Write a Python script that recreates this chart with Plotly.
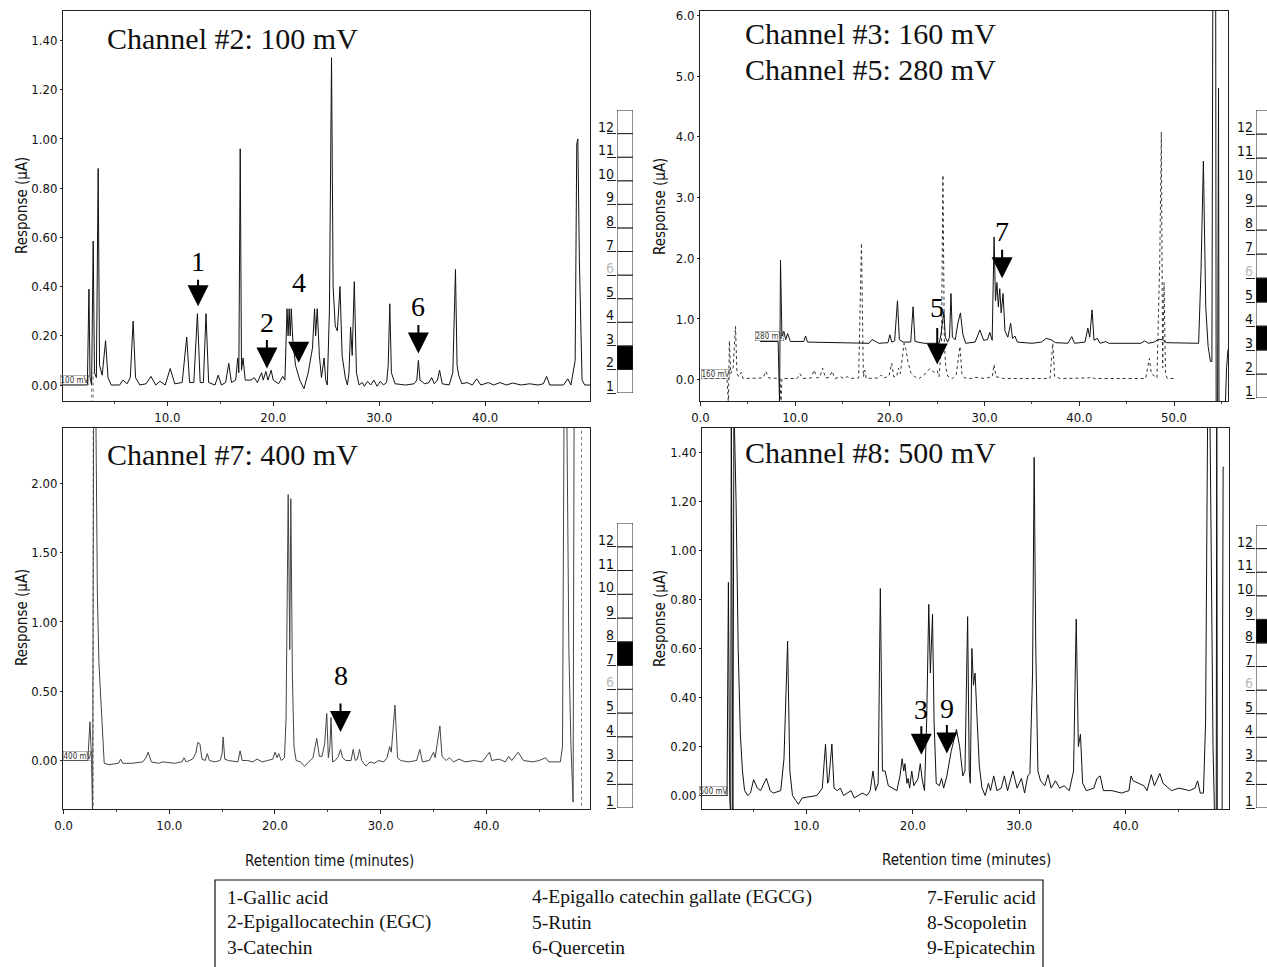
import plotly.graph_objects as go

W, H = 1267, 967
SERIF = "Liberation Serif, Times New Roman, serif"
NARROW = "Liberation Sans Narrow, Arial Narrow, DejaVu Sans Condensed, Liberation Sans, sans-serif"

# ---------------- data: chromatogram vertices (time min, response uA) ----------------
ch2_points = [
    (0.0, 0.0), (2.45, 0.0), (2.6, 0.39), (2.7, 0.03), (2.85, 0.0), (3.0, 0.585), (3.12, 0.05), (3.3, 0.03),
    (3.47, 0.88), (3.6, 0.08), (3.85, 0.04), (4.17, 0.18), (4.4, 0.03), (4.7, 0.0), (5.5, 0.0), (5.8, 0.02),
    (6.2, 0.005), (6.5, 0.03), (6.77, 0.26), (7.0, 0.03), (7.4, 0.0), (8.0, 0.005), (8.45, 0.035), (8.9, 0.0),
    (9.3, 0.015), (9.8, 0.0), (10.27, 0.067), (10.7, 0.005), (11.4, 0.01), (11.83, 0.195), (12.1, 0.01),
    (12.5, 0.01), (12.84, 0.29), (13.1, 0.01), (13.4, 0.01), (13.65, 0.29), (13.9, 0.01), (14.5, 0.0),
    (14.8, 0.04), (15.1, 0.0), (15.5, 0.01), (15.8, 0.088), (16.05, 0.01), (16.45, 0.02), (16.65, 0.11),
    (16.75, 0.05), (16.88, 0.96), (17.0, 0.06), (17.15, 0.11), (17.35, 0.02), (17.9, 0.02), (18.2, 0.03),
    (18.5, 0.01), (18.9, 0.05), (19.05, 0.02), (19.3, 0.055), (19.5, 0.02), (19.8, 0.06), (20.0, 0.02),
    (20.5, 0.005), (20.9, 0.035), (21.1, 0.02), (21.3, 0.31), (21.4, 0.2), (21.5, 0.31), (21.6, 0.2),
    (21.7, 0.31), (21.85, 0.18), (22.1, 0.08), (22.5, 0.02), (22.9, -0.015), (23.3, 0.05), (23.7, 0.15),
    (23.9, 0.31), (24.0, 0.2), (24.15, 0.31), (24.35, 0.12), (24.55, 0.03), (24.8, 0.11), (24.95, 0.02),
    (25.1, 0.0), (25.3, 0.3), (25.5, 1.33), (25.65, 0.4), (25.85, 0.24), (26.05, 0.22), (26.3, 0.40),
    (26.5, 0.12), (26.8, 0.03), (27.0, 0.0), (27.15, 0.05), (27.3, 0.235), (27.45, 0.12), (27.65, 0.42),
    (27.85, 0.05), (28.1, 0.0), (28.4, 0.01), (28.6, -0.005), (28.9, 0.015), (29.2, 0.0), (29.5, 0.02),
    (29.8, -0.005), (30.1, 0.015), (30.4, 0.0), (30.7, 0.01), (30.85, 0.08), (31.0, 0.33), (31.15, 0.05),
    (31.5, 0.005), (32.5, 0.0), (33.3, 0.005), (33.55, 0.02), (33.7, 0.10), (33.85, 0.02), (34.3, 0.005),
    (34.7, 0.01), (34.95, 0.03), (35.2, 0.005), (35.5, 0.02), (35.7, 0.06), (35.95, 0.005), (36.6, 0.0),
    (36.95, 0.05), (37.2, 0.47), (37.35, 0.08), (37.5, 0.04), (37.8, 0.005), (38.3, 0.01), (38.8, 0.0),
    (39.2, 0.025), (39.6, 0.0), (40.3, 0.01), (40.8, 0.0), (41.4, 0.01), (42.0, 0.0), (42.6, 0.008),
    (43.4, 0.0), (44.2, 0.005), (45.0, 0.0), (45.5, 0.005), (45.8, 0.035), (46.1, 0.0), (47.4, 0.0),
    (47.8, 0.025), (48.1, 0.0), (48.5, 0.1), (48.65, 0.98), (48.75, 1.00), (48.9, 0.5), (49.15, 0.02),
    (49.4, 0.0), (50.0, 0.0),
]

ch3_points = [  # 160 mV
    (0.4, 0.02), (2.8, 0.02), (2.95, -0.4), (3.05, 0.64), (3.2, 0.1), (3.45, 0.2), (3.7, 0.88), (3.85, 0.1),
    (4.05, 0.05), (4.3, 0.12), (4.5, 0.02), (6.6, 0.03), (6.9, 0.14), (7.2, 0.03), (8.4, 0.02), (8.5, -0.4),
    (8.6, 0.02), (10.2, 0.02), (10.5, 0.1), (10.8, 0.02), (11.7, 0.03), (12.0, 0.16), (12.3, 0.03),
    (12.6, 0.04), (12.9, 0.19), (13.2, 0.03), (13.6, 0.04), (13.9, 0.14), (14.2, 0.02), (14.8, 0.05),
    (15.1, 0.02), (15.5, 0.05), (15.8, 0.02), (16.7, 0.03), (17.0, 2.25), (17.2, 0.05), (17.35, 0.16),
    (17.5, 0.02), (18.8, 0.03), (19.1, 0.08), (19.4, 0.03), (19.9, 0.06), (20.2, 0.27), (20.4, 0.05),
    (20.7, 0.05), (20.9, 0.19), (21.1, 0.1), (21.3, 0.35), (21.5, 0.6), (21.7, 0.5), (21.9, 0.3),
    (22.2, 0.12), (22.6, 0.05), (23.1, 0.02), (23.6, 0.08), (24.2, 0.18), (24.7, 0.12), (25.0, 0.15),
    (25.2, 0.05), (25.45, 0.6), (25.6, 3.37), (25.75, 0.6), (25.9, 0.2), (26.1, 0.06), (26.3, 0.04),
    (26.6, 0.02), (27.0, 0.08), (27.4, 0.55), (27.6, 0.1), (27.9, 0.03), (28.6, 0.02), (29.0, 0.04),
    (30.0, 0.02), (30.8, 0.05), (31.0, 0.25), (31.2, 0.05), (32.0, 0.02), (36.9, 0.02), (37.2, 0.6),
    (37.4, 0.05), (38.0, 0.02), (41.0, 0.03), (41.3, 0.05), (41.6, 0.02), (47.0, 0.02), (47.4, 0.35),
    (47.6, 0.1), (48.2, 0.03), (48.5, 2.0), (48.66, 4.08), (48.8, 0.2), (48.95, 1.6), (49.1, 0.1),
    (49.3, 0.02), (50.2, 0.02),
]

ch5_points = [  # 280 mV
    (6.3, 0.63), (8.2, 0.63), (8.35, -0.4), (8.45, 1.97), (8.6, 0.72), (8.8, 0.8), (9.0, 0.66), (9.2, 0.76),
    (9.5, 0.63), (10.9, 0.63), (11.1, 0.72), (11.3, 0.62), (17.8, 0.6), (18.1, 0.66), (18.4, 0.64),
    (18.8, 0.6), (19.8, 0.61), (20.0, 0.74), (20.2, 0.62), (20.5, 0.64), (20.8, 1.3), (21.0, 0.66),
    (21.4, 0.62), (22.2, 0.62), (22.45, 1.2), (22.65, 0.63), (23.6, 0.6), (25.2, 0.6), (25.4, 0.75),
    (25.7, 1.12), (25.85, 0.7), (26.1, 0.62), (26.3, 0.7), (26.45, 1.42), (26.6, 0.7), (26.9, 0.66),
    (27.2, 0.95), (27.45, 1.1), (27.7, 0.75), (28.0, 0.6), (29.0, 0.62), (29.5, 0.82), (29.9, 0.65),
    (30.3, 0.66), (30.55, 0.78), (30.8, 0.65), (31.0, 2.35), (31.15, 1.3), (31.3, 1.6), (31.45, 1.2),
    (31.6, 1.5), (31.75, 1.1), (31.95, 1.42), (32.15, 0.8), (32.45, 0.7), (32.75, 0.93), (32.95, 0.68),
    (33.2, 0.72), (33.45, 0.62), (35.0, 0.6), (36.0, 0.62), (36.5, 0.68), (37.0, 0.66), (37.5, 0.61),
    (38.8, 0.6), (39.2, 0.71), (39.5, 0.6), (40.6, 0.62), (40.9, 0.85), (41.1, 0.7), (41.35, 1.15),
    (41.55, 0.65), (41.9, 0.68), (42.2, 0.6), (42.8, 0.63), (43.1, 0.6), (46.5, 0.6), (46.9, 0.64),
    (47.3, 0.6), (47.9, 0.62), (48.3, 0.66), (48.8, 0.66), (49.2, 0.61), (52.6, 0.6), (52.85, 1.8),
    (53.1, 3.6), (53.35, 1.2), (53.6, 0.55), (53.85, 0.3), (54.0, 0.3), (54.1, 6.5), (54.4, 6.5),
    (54.45, -0.5), (54.6, -0.5), (54.7, 4.8), (54.75, -0.5), (55.4, -0.5), (55.55, 0.2), (55.7, 0.5),
]

ch7_points = [  # 400 mV
    (0.0, 0.0), (2.3, 0.0), (2.5, 0.28), (2.65, 0.0), (2.75, -0.4), (2.85, 2.6), (3.05, 2.6), (3.2, 1.2),
    (3.35, 0.7), (3.6, 0.3), (3.85, -0.02), (4.3, -0.03), (5.2, -0.02), (5.4, 0.01), (5.6, -0.02),
    (6.5, -0.02), (7.5, -0.01), (7.8, 0.02), (8.0, 0.06), (8.3, -0.01), (9.0, -0.02), (9.4, -0.01),
    (10.5, -0.02), (11.2, -0.01), (11.4, 0.02), (11.6, -0.01), (12.2, 0.01), (12.5, 0.05), (12.7, 0.13),
    (12.9, 0.12), (13.1, 0.01), (13.4, 0.0), (13.6, 0.05), (13.8, 0.0), (14.3, -0.01), (14.8, 0.0),
    (15.0, 0.05), (15.1, 0.17), (15.25, 0.01), (15.6, 0.0), (16.5, -0.01), (16.7, 0.07), (16.9, 0.0),
    (17.4, 0.0), (17.9, -0.01), (18.3, 0.01), (18.8, -0.01), (19.3, 0.0), (19.8, 0.01), (20.0, 0.06),
    (20.2, 0.02), (20.35, 0.05), (20.6, 0.0), (20.9, 0.02), (21.05, 0.3), (21.25, 1.92), (21.4, 0.8),
    (21.5, 1.89), (21.65, 0.6), (21.8, 0.1), (22.0, 0.0), (22.4, -0.01), (22.8, -0.04), (23.2, -0.01),
    (23.6, 0.02), (23.95, 0.16), (24.2, 0.03), (24.45, 0.03), (24.7, 0.12), (24.9, 0.34), (25.05, 0.02),
    (25.2, 0.1), (25.3, 0.31), (25.45, -0.01), (25.7, 0.0), (26.0, 0.03), (26.2, 0.08), (26.4, 0.02),
    (26.7, 0.0), (27.2, 0.0), (27.4, 0.08), (27.6, 0.0), (27.8, 0.01), (28.0, 0.08), (28.2, 0.0),
    (28.6, -0.04), (29.0, -0.01), (29.4, -0.02), (29.8, 0.0), (30.3, -0.01), (30.6, 0.02), (30.85, 0.1),
    (31.0, 0.06), (31.35, 0.40), (31.6, 0.02), (31.9, 0.0), (32.6, -0.01), (33.4, 0.0), (33.7, 0.08),
    (33.95, -0.01), (34.6, 0.0), (35.0, 0.06), (35.15, 0.02), (35.6, 0.25), (35.8, 0.03), (36.2, 0.0),
    (36.5, 0.02), (36.9, -0.01), (37.4, 0.01), (38.0, -0.01), (38.8, 0.0), (39.6, -0.01), (40.3, 0.06),
    (40.5, 0.0), (41.2, 0.01), (41.8, -0.01), (42.1, 0.03), (42.4, 0.0), (43.0, 0.06), (43.5, 0.0),
    (44.4, -0.01), (45.0, 0.0), (45.6, 0.02), (45.9, -0.01), (47.0, -0.01), (47.2, 0.1), (47.35, 2.6),
    (47.6, 2.6), (47.8, 0.8), (48.0, 0.1), (48.2, -0.3), (48.3, 2.6),
]

ch8_points = [  # 500 mV
    (0.0, 0.0), (2.4, 0.0), (2.55, 0.0), (2.68, 0.87), (2.8, 0.0), (2.9, -0.1), (2.95, 1.6), (3.1, -0.1),
    (3.2, 1.6), (3.4, 1.2), (3.6, 0.6), (3.8, 0.25), (4.0, 0.1), (4.2, 0.02), (4.5, 0.0), (4.75, 0.01),
    (5.05, 0.065), (5.4, 0.03), (5.7, 0.02), (6.25, 0.07), (6.6, 0.02), (6.9, 0.01), (7.6, 0.02),
    (7.9, 0.15), (8.24, 0.63), (8.45, 0.1), (8.7, 0.0), (9.0, -0.02), (9.25, -0.036), (9.6, -0.01),
    (10.2, -0.005), (11.0, 0.0), (11.5, 0.03), (11.8, 0.21), (12.0, 0.05), (12.1, 0.06), (12.4, 0.21),
    (12.6, 0.03), (12.9, 0.02), (13.2, 0.03), (13.5, 0.0), (14.2, 0.02), (14.5, -0.01), (15.25, 0.01),
    (15.7, 0.0), (16.0, 0.02), (16.26, 0.1), (16.5, 0.02), (16.75, 0.05), (16.95, 0.845), (17.15, 0.1),
    (17.4, 0.1), (17.7, 0.04), (18.1, 0.03), (18.5, 0.02), (18.8, 0.08), (19.0, 0.15), (19.15, 0.1),
    (19.26, 0.13), (19.45, 0.05), (19.56, 0.07), (19.7, 0.03), (19.9, 0.1), (20.1, 0.04), (20.5, 0.07),
    (20.7, 0.13), (20.9, 0.06), (21.1, 0.02), (21.3, 0.3), (21.5, 0.78), (21.65, 0.5), (21.85, 0.74),
    (22.0, 0.3), (22.2, 0.05), (22.5, 0.04), (22.7, 0.07), (22.9, 0.03), (23.2, 0.08), (23.6, 0.18),
    (24.1, 0.27), (24.4, 0.2), (24.7, 0.08), (24.9, 0.1), (25.15, 0.73), (25.3, 0.1), (25.4, 0.05),
    (25.55, 0.6), (25.7, 0.45), (25.85, 0.5), (26.05, 0.3), (26.25, 0.12), (26.5, 0.03), (26.8, 0.0),
    (27.1, 0.05), (27.3, 0.02), (27.6, 0.08), (27.9, 0.02), (28.3, 0.03), (28.6, 0.08), (28.9, 0.02),
    (29.4, 0.1), (29.8, 0.03), (30.2, 0.07), (30.5, 0.01), (30.8, 0.08), (31.0, 0.09), (31.25, 0.5),
    (31.4, 1.38), (31.55, 0.6), (31.75, 0.1), (32.0, 0.06), (32.4, 0.04), (32.7, 0.085), (33.0, 0.03),
    (33.4, 0.06), (33.8, 0.03), (34.2, 0.04), (34.7, 0.02), (35.1, 0.1), (35.35, 0.72), (35.55, 0.2),
    (35.75, 0.25), (35.95, 0.05), (36.3, 0.02), (37.0, 0.03), (37.3, 0.07), (37.6, 0.08), (37.9, 0.02),
    (38.7, 0.02), (39.6, 0.01), (40.3, 0.02), (40.5, 0.08), (40.7, 0.06), (41.7, 0.04), (42.0, 0.02),
    (42.4, 0.085), (42.7, 0.04), (43.2, 0.09), (43.5, 0.05), (44.3, 0.02), (45.0, 0.03), (46.0, 0.02),
    (46.5, 0.03), (46.75, 0.06), (47.0, 0.01), (47.3, 0.01), (47.5, 0.3), (47.7, 1.6), (47.9, 1.6),
    (48.2, 0.2), (48.35, -0.1), (48.5, -0.1), (48.55, 1.6), (48.6, -0.1), (49.05, -0.1), (49.15, 1.34),
    (49.25, 1.34),
]

# dotted injection / wash markers (time, low, high)
markers_TL = [(2.85, -0.1, 0.05), (3.0, -0.1, 0.05)]
markers_BL = [(2.8, -0.5, 2.6), (49.0, -0.5, 2.6)]

# tick values
x_ticks_TL = [10, 20, 30, 40]
x_ticks_TR = [0, 10, 20, 30, 40, 50]
x_ticks_BL = [0, 10, 20, 30, 40]
x_ticks_BR = [10, 20, 30, 40]
y_ticks_TL = [0.0, 0.2, 0.4, 0.6, 0.8, 1.0, 1.2, 1.4]
y_ticks_TR = [0, 1, 2, 3, 4, 5, 6]
y_ticks_BL = [0.0, 0.5, 1.0, 1.5, 2.0]
y_ticks_BR = [0.0, 0.2, 0.4, 0.6, 0.8, 1.0, 1.2, 1.4]

# compound markers: (label, time, response at arrow tip, shaft px, label offset px)
arrows_TL = [("1", 12.9, 0.32, 28, 45), ("2", 19.4, 0.067, 30, 46), ("4", 22.4, 0.09, 18, 80), ("6", 33.7, 0.128, 30, 47)]
arrows_TR = [("5", 25.0, 0.25, 38, 57), ("7", 31.85, 1.67, 30, 47)]
arrows_BL = [("8", 26.2, 0.205, 30, 57)]
arrows_BR = [("3", 20.8, 0.166, 30, 45), ("9", 23.2, 0.172, 30, 45)]

# electrode array scale (cell numbers) and highlighted channels
scale_cells = list(range(1, 13))
active_TL = [2]
active_TR = [3, 5]
active_BL = [7]
active_BR = [8]

legend_col1 = ["1-Gallic acid", "2-Epigallocatechin (EGC)", "3-Catechin"]
legend_col2 = ["4-Epigallo catechin gallate (EGCG)", "5-Rutin", "6-Quercetin"]
legend_col3 = ["7-Ferulic acid", "8-Scopoletin", "9-Epicatechin"]


def unzip(points):
    return [p[0] for p in points], [p[1] for p in points]


def xdom(a, b):
    return [a / W, min(b / W, 1.0)]


def ydom(top, bot):
    return [1 - bot / H, 1 - top / H]


fig = go.Figure()
layout = dict(width=W, height=H, margin=dict(l=0, r=0, t=0, b=0, pad=0, autoexpand=False),
              paper_bgcolor="white", plot_bgcolor="white", showlegend=False)
annotations = []
shapes = []

panels = [
    dict(n="", xd=(63, 590), yd=(11, 401), xr=[0.15, 49.9], yr=[-0.065, 1.52], xt=x_ticks_TL, yt=y_ticks_TL,
         yf=".2f", arrows=arrows_TL, active=active_TL, sx=(617, 633), sy=(110, 393)),
    dict(n="2", xd=(700, 1228), yd=(11, 401), xr=[-0.05, 55.7], yr=[-0.35, 6.07], xt=x_ticks_TR, yt=y_ticks_TR,
         yf=".1f", arrows=arrows_TR, active=active_TR, sx=(1256, 1272), sy=(110, 398)),
    dict(n="3", xd=(63, 590), yd=(428, 809), xr=[-0.05, 49.8], yr=[-0.35, 2.40], xt=x_ticks_BL, yt=y_ticks_BL,
         yf=".2f", arrows=arrows_BL, active=active_BL, sx=(617, 633), sy=(523, 808)),
    dict(n="4", xd=(702, 1229), yd=(428, 809), xr=[0.2, 49.7], yr=[-0.055, 1.50], xt=x_ticks_BR, yt=y_ticks_BR,
         yf=".2f", arrows=arrows_BR, active=active_BR, sx=(1256, 1272), sy=(525, 808)),
]

for i, p in enumerate(panels):
    n = p["n"]
    layout["xaxis" + n] = dict(domain=xdom(*p["xd"]), range=p["xr"], anchor="y" + n, showgrid=False, zeroline=False,
                               showline=True, linecolor="#222", linewidth=1, mirror=True, automargin=False,
                               tickvals=p["xt"], ticktext=[f"{v:.1f}" for v in p["xt"]],
                               ticks="outside", ticklen=4, tickcolor="#222",
                               minor=dict(dtick=5, tick0=0, ticks="outside", ticklen=2, tickcolor="#444"),
                               tickfont=dict(family=NARROW, size=13, color="#111"))
    layout["yaxis" + n] = dict(domain=ydom(*p["yd"]), range=p["yr"], anchor="x" + n, showgrid=False, zeroline=False,
                               showline=True, linecolor="#222", linewidth=1, mirror=True, automargin=False,
                               tickvals=p["yt"], ticktext=[format(v, p["yf"]) for v in p["yt"]],
                               ticks="outside", ticklen=2, tickcolor="#222",
                               tickfont=dict(family=NARROW, size=13, color="#111"))
    xa, ya = "x" + n, "y" + n
    for lab, t, v, L, off in p["arrows"]:
        annotations.append(dict(x=t, y=v, xref=xa, yref=ya, text="", showarrow=True, arrowhead=2,
                                arrowsize=2.1, arrowwidth=2, arrowcolor="black", ax=0, ay=-L, standoff=0))
        annotations.append(dict(x=t, y=v, xref=xa, yref=ya, text=lab, showarrow=False, yshift=off,
                                xanchor="center", yanchor="middle",
                                font=dict(family=SERIF, size=28, color="black")))
    # scale bar
    sn = str(5 + i)
    sxd = xdom(*p["sx"])
    sxr = [0, (min(p["sx"][1], W) - p["sx"][0]) / (p["sx"][1] - p["sx"][0])]
    layout["xaxis" + sn] = dict(domain=sxd, range=sxr, anchor="y" + sn, visible=False, automargin=False)
    layout["yaxis" + sn] = dict(domain=ydom(*p["sy"]), range=[0, 12], anchor="x" + sn, showgrid=False,
                                zeroline=False, showline=False, tickvals=list(range(0, 12)), automargin=False,
                                ticks="outside", ticklen=9, tickcolor="#222", showticklabels=False)
    fig.add_trace(go.Bar(x=[0.5] * len(scale_cells), y=[1] * len(scale_cells),
                         base=[c - 1 for c in scale_cells], width=1.0,
                         marker=dict(color=["black" if c in p["active"] else "white" for c in scale_cells],
                                     line=dict(color="#222", width=1)),
                         xaxis="x" + sn, yaxis="y" + sn, hoverinfo="skip"))
    for c in scale_cells:
        annotations.append(dict(x=0, y=c - 1, xref="x" + sn, yref="y" + sn, text=str(c), showarrow=False,
                                xanchor="right", yanchor="bottom", xshift=-1, yshift=-3,
                                font=dict(family=NARROW, size=14, color="#bbb" if c == 6 else "#111")))


# chromatogram traces
def add_line(points, xa, ya, color, width=1.0, dash="solid"):
    xs, ys = unzip(points)
    fig.add_trace(go.Scatter(x=xs, y=ys, mode="lines", xaxis=xa, yaxis=ya,
                             line=dict(color=color, width=width, dash=dash), hoverinfo="skip"))


def add_markers(markers, xa, ya):
    xs, ys = [], []
    for t, lo, hi in markers:
        xs += [t, t, None]
        ys += [lo, hi, None]
    fig.add_trace(go.Scatter(x=xs, y=ys, mode="lines", xaxis=xa, yaxis=ya,
                             line=dict(color="#777", width=1, dash="dot"), hoverinfo="skip"))


add_markers(markers_TL, "x", "y")
add_line(ch2_points, "x", "y", "#111", 1.0)
add_line(ch3_points, "x2", "y2", "#333", 1.0, "dot")
add_line(ch5_points, "x2", "y2", "#111", 1.0)
add_markers(markers_BL, "x3", "y3")
add_line(ch7_points, "x3", "y3", "#444", 1.0)
add_line(ch8_points, "x4", "y4", "#111", 1.0)

# small channel labels on traces
for t, v, txt, xa, ya in [(1.2, 0.0, "100 mV", "x", "y"), (1.6, 0.02, "160 mV", "x2", "y2"),
                         (7.3, 0.63, "280 mV", "x2", "y2"), (1.3, 0.0, "400 mV", "x3", "y3"),
                         (1.3, 0.0, "500 mV", "x4", "y4")]:
    annotations.append(dict(x=t, y=v, xref=xa, yref=ya, text=txt, showarrow=False, yanchor="bottom",
                            xanchor="center", font=dict(family=NARROW, size=8, color="#333"),
                            bordercolor="#666", borderwidth=0.5, borderpad=0))

# panel titles
for txt, px, py in [("Channel #2: 100 mV", 105, 38), ("Channel #3: 160 mV", 743, 33),
                    ("Channel #5: 280 mV", 743, 70), ("Channel #7: 400 mV", 105, 455),
                    ("Channel #8: 500 mV", 743, 453)]:
    annotations.append(dict(x=px / W, y=1 - py / H, xref="paper", yref="paper", text=txt, showarrow=False,
                            xanchor="left", yanchor="middle", font=dict(family=SERIF, size=30, color="#111")))

# axis titles
for px, py in [(22, 206), (660, 206), (22, 618), (660, 618)]:
    annotations.append(dict(x=px / W, y=1 - py / H, xref="paper", yref="paper", text="Response (µA)",
                            showarrow=False, textangle=-90, xanchor="center", yanchor="middle",
                            font=dict(family=NARROW, size=15, color="#111")))
for px, py in [(330, 861), (966, 860)]:
    annotations.append(dict(x=px / W, y=1 - py / H, xref="paper", yref="paper", text="Retention time (minutes)",
                            showarrow=False, xanchor="center", yanchor="middle",
                            font=dict(family=NARROW, size=15, color="#111")))

# compound key box
shapes.append(dict(type="rect", xref="paper", yref="paper", x0=215 / W, x1=1043 / W, y0=1 - 985 / H,
                   y1=1 - 880 / H, line=dict(color="#111", width=1.2), fillcolor="rgba(0,0,0,0)"))
for col_x, col in [(225, legend_col1), (530, legend_col2), (925, legend_col3)]:
    for r, txt in enumerate(col):
        annotations.append(dict(x=col_x / W, y=1 - (897 + 25 * r) / H, xref="paper", yref="paper", text=txt,
                                showarrow=False, xanchor="left", yanchor="middle",
                                font=dict(family=SERIF, size=19.5, color="#111")))

layout["annotations"] = annotations
layout["shapes"] = shapes
fig.update_layout(**layout)
fig.write_html("out.html", config={"displayModeBar": False, "staticPlot": True},
               post_script="document.body.style.margin='0';document.body.style.padding='0';"
                           "document.body.style.overflow='hidden';")
